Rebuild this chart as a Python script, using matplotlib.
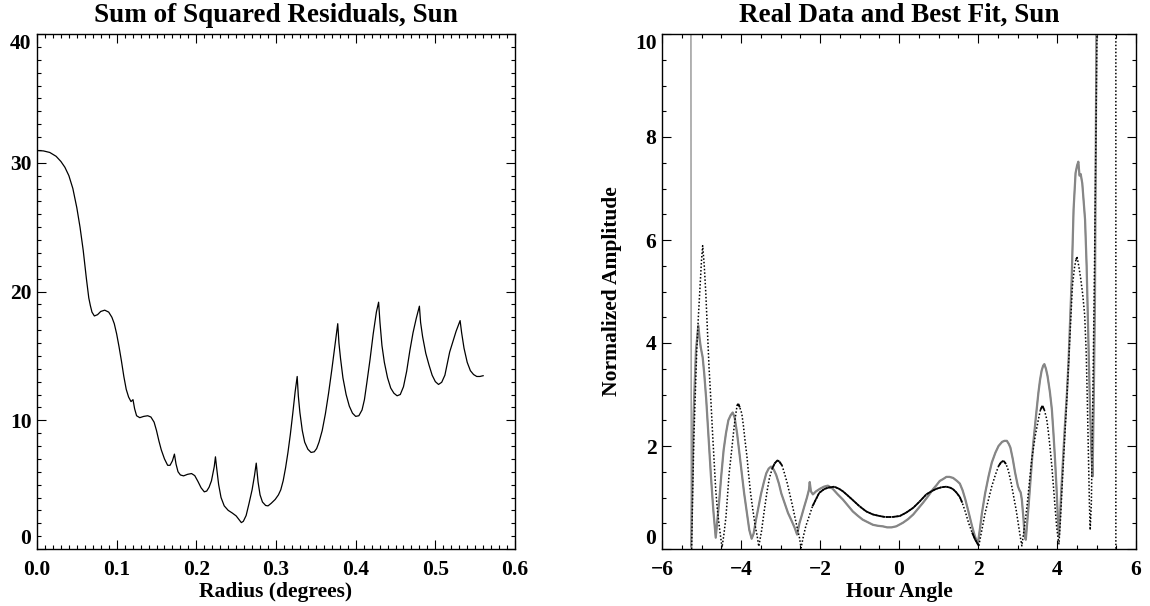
import numpy as np
import matplotlib
matplotlib.use('Agg')
import matplotlib.pyplot as plt
from matplotlib.ticker import MultipleLocator
from matplotlib.collections import LineCollection

# sum of squared residuals against trial disk radius
radius = [0.000, 0.008, 0.016, 0.024, 0.030, 0.035, 0.040, 0.045, 0.050, 0.054,
          0.058, 0.062, 0.065, 0.067, 0.069, 0.072, 0.076, 0.080, 0.085, 0.090,
          0.094, 0.097, 0.100, 0.103, 0.106, 0.109, 0.112, 0.115, 0.118, 0.1205,
          0.1225, 0.125, 0.129, 0.134, 0.139, 0.143, 0.147, 0.150, 0.153, 0.156,
          0.160, 0.164, 0.167, 0.170, 0.1725, 0.1745, 0.177, 0.180, 0.184, 0.189,
          0.194, 0.198, 0.202, 0.206, 0.210, 0.213, 0.216, 0.219, 0.2225, 0.224,
          0.2255, 0.228, 0.231, 0.235, 0.240, 0.245, 0.250, 0.254, 0.2565, 0.259,
          0.2625, 0.266, 0.270, 0.273, 0.2752, 0.2775, 0.280, 0.283, 0.287, 0.290,
          0.294, 0.299, 0.303, 0.306, 0.309, 0.312, 0.315, 0.318, 0.321, 0.324,
          0.3266, 0.328, 0.330, 0.333, 0.336, 0.340, 0.344, 0.348, 0.351, 0.354,
          0.358, 0.362, 0.366, 0.370, 0.374, 0.3775, 0.379, 0.381, 0.384, 0.388,
          0.392, 0.396, 0.400, 0.404, 0.408, 0.411, 0.414, 0.418, 0.422, 0.426,
          0.4288, 0.4305, 0.433, 0.436, 0.440, 0.444, 0.448, 0.452, 0.456, 0.460,
          0.464, 0.468, 0.472, 0.476, 0.480, 0.4815, 0.484, 0.488, 0.492, 0.496,
          0.500, 0.504, 0.508, 0.512, 0.515, 0.518, 0.522, 0.526, 0.5311, 0.533,
          0.536, 0.540, 0.544, 0.548, 0.552, 0.556, 0.560]
ssr = [30.95, 30.92, 30.80, 30.50, 30.10, 29.65, 29.00, 28.00, 26.50, 25.00,
       23.20, 21.00, 19.50, 18.90, 18.40, 18.10, 18.20, 18.45, 18.55, 18.40,
       18.00, 17.50, 16.70, 15.70, 14.60, 13.40, 12.40, 11.80, 11.45, 11.60,
       10.90, 10.35, 10.20, 10.30, 10.35, 10.25, 9.85, 9.20, 8.40, 7.70,
       7.00, 6.50, 6.50, 6.85, 7.37, 6.60, 6.00, 5.75, 5.68, 5.80,
       5.86, 5.70, 5.25, 4.75, 4.44, 4.50, 4.80, 5.30, 6.40, 7.16,
       6.30, 5.00, 4.00, 3.35, 3.00, 2.80, 2.57, 2.25, 2.05, 2.15,
       2.60, 3.50, 4.60, 5.70, 6.67, 5.20, 4.20, 3.65, 3.38, 3.35,
       3.55, 3.85, 4.20, 4.60, 5.30, 6.30, 7.50, 8.90, 10.50, 12.20,
       13.40, 11.90, 10.60, 9.20, 8.30, 7.75, 7.50, 7.55, 7.80, 8.30,
       9.20, 10.50, 12.10, 13.90, 15.80, 17.50, 16.00, 14.80, 13.30, 12.00,
       11.10, 10.55, 10.30, 10.35, 10.80, 11.60, 12.90, 14.70, 16.70, 18.40,
       19.17, 17.60, 15.80, 14.50, 13.30, 12.50, 12.10, 11.90, 12.00, 12.60,
       13.80, 15.40, 16.80, 17.90, 18.86, 17.60, 16.50, 15.20, 14.30, 13.50,
       13.00, 12.78, 12.95, 13.50, 14.40, 15.30, 16.10, 16.90, 17.74, 16.80,
       15.60, 14.50, 13.85, 13.55, 13.40, 13.40, 13.46]

# measured fringe amplitude
ha_data = [-5.27, -5.26, -5.20, -5.14, -5.08, -5.05, -5.02, -4.97, -4.93, -4.88, -4.82, -4.76, -4.70, -4.64,
           -4.60, -4.55, -4.50, -4.44, -4.38, -4.32, -4.26, -4.21, -4.16, -4.10, -4.04, -3.98, -3.92, -3.85, -3.79, -3.73,
           -3.68, -3.62, -3.55, -3.49, -3.42, -3.36, -3.30, -3.24, -3.17, -3.11, -3.04, -2.98, -2.90, -2.81, -2.72, -2.64, -2.58,
           -2.52, -2.47, -2.40, -2.33, -2.28, -2.26, -2.23, -2.18, -2.10, -2.00, -1.90, -1.80, -1.68,
           -1.55, -1.42, -1.30, -1.17, -1.05, -0.92, -0.79, -0.66, -0.53, -0.41, -0.30, -0.19, -0.07, 0.10,
           0.23, 0.36, 0.48, 0.61, 0.74, 0.86, 0.95, 1.03, 1.12, 1.20, 1.28, 1.37, 1.47, 1.54,
           1.61, 1.68, 1.76, 1.85, 1.92, 1.97, 2.00,
           2.05, 2.10, 2.18, 2.27, 2.35, 2.44, 2.52, 2.61, 2.67, 2.73, 2.78, 2.82, 2.88, 2.94, 3.01, 3.05, 3.08, 3.11, 3.15, 3.18, 3.21,
           3.24, 3.28, 3.34, 3.40, 3.47, 3.53, 3.57, 3.61, 3.65, 3.68, 3.72, 3.76, 3.82, 3.87, 3.91, 3.95, 3.99, 4.02, 4.05,
           4.08, 4.12, 4.16, 4.20, 4.25, 4.29, 4.33, 4.37, 4.42, 4.47, 4.51, 4.54, 4.57, 4.60, 4.64, 4.68, 4.71, 4.75, 4.79,
           4.83, 4.87, 4.90, 4.93, 4.96, 5.00, 5.01]
amp_data = [14.0, 0.05, 2.63, 3.86, 4.34, 4.10, 3.92, 3.72, 3.40, 2.90, 2.15, 1.40, 0.75, 0.22,
            0.55, 0.95, 1.42, 1.92, 2.25, 2.50, 2.60, 2.65, 2.55, 2.25, 1.86, 1.48, 1.08, 0.70, 0.37, 0.20,
            0.30, 0.57, 0.85, 1.08, 1.30, 1.47, 1.56, 1.60, 1.54, 1.44, 1.27, 1.08, 0.90, 0.70, 0.55, 0.41, 0.28,
            0.50, 0.63, 0.82, 1.00, 1.15, 1.30, 1.12, 1.06, 1.12, 1.17, 1.21, 1.23, 1.17,
            1.06, 0.96, 0.85, 0.73, 0.65, 0.57, 0.52, 0.47, 0.45, 0.44, 0.42, 0.42, 0.44, 0.51,
            0.58, 0.67, 0.78, 0.90, 1.03, 1.16, 1.24, 1.32, 1.36, 1.40, 1.40, 1.38, 1.32, 1.27,
            1.14, 0.96, 0.72, 0.44, 0.25, 0.15, 0.12,
            0.40, 0.70, 1.08, 1.42, 1.68, 1.87, 2.00, 2.08, 2.10, 2.10, 2.04, 1.97, 1.75, 1.48, 1.22, 1.14, 1.10, 0.96, 0.60, 0.25, 0.18,
            0.45, 0.83, 1.45, 2.06, 2.60, 3.04, 3.28, 3.46, 3.56, 3.59, 3.50, 3.36, 3.05, 2.71, 2.25, 1.74, 1.15, 0.64, 0.25,
            0.70, 1.29, 1.85, 2.39, 3.00, 3.60, 4.40, 5.20, 6.60, 7.30, 7.45, 7.52, 7.25, 7.28, 7.10, 6.70, 6.40, 5.50, 4.20,
            2.90, 1.90, 1.41, 2.90, 4.80, 10.20, 14.00]

# best-fit model amplitude
ha_fit = [-5.25, -5.22, -5.19, -5.15, -5.12, -5.08, -5.03, -5.00, -4.97, -4.93, -4.89, -4.85, -4.81, -4.76, -4.72, -4.68, -4.64, -4.60, -4.55, -4.51, -4.48,
          -4.43, -4.38, -4.34, -4.30, -4.25, -4.21, -4.17, -4.13, -4.10, -4.07, -4.03, -3.98, -3.94, -3.90, -3.85, -3.81, -3.76, -3.70, -3.64, -3.59, -3.55,
          -3.48, -3.41, -3.34, -3.28, -3.21, -3.15, -3.08, -3.03, -2.96, -2.90, -2.83, -2.77, -2.70, -2.64, -2.58, -2.52, -2.48,
          -2.42, -2.36, -2.27, -2.19, -2.10, -2.02, -1.90, -1.80, -1.64, -1.52, -1.42, -1.30, -1.17, -1.00, -0.83, -0.66, -0.49, -0.34, -0.19,
          0.02, 0.19, 0.36, 0.52, 0.69, 0.82, 0.95, 1.08, 1.20, 1.30, 1.37, 1.45, 1.54, 1.60, 1.68, 1.76, 1.85, 1.93, 2.02,
          2.10, 2.18, 2.27, 2.35, 2.44, 2.52, 2.59, 2.65, 2.71, 2.77, 2.84, 2.90, 2.97, 3.03, 3.07, 3.11,
          3.18, 3.24, 3.30, 3.36, 3.45, 3.53, 3.58, 3.63, 3.68, 3.74, 3.78, 3.82, 3.87, 3.91, 3.95, 3.99, 4.02, 4.05,
          4.09, 4.13, 4.18, 4.24, 4.30, 4.35, 4.39, 4.44, 4.48, 4.51, 4.55, 4.60, 4.65, 4.70, 4.74, 4.77, 4.80, 4.82, 4.84,
          4.87, 4.90, 4.95, 4.99, 5.02, 5.05, 5.49, 5.49]
amp_fit = [0.00, 1.20, 2.25, 3.20, 3.86, 4.50, 5.20, 5.60, 5.89, 5.50, 4.95, 4.25, 3.54, 2.85, 2.25, 1.70, 1.15, 0.78, 0.44, 0.20, 0.03,
           0.30, 0.63, 1.05, 1.47, 1.82, 2.12, 2.40, 2.63, 2.78, 2.82, 2.75, 2.63, 2.40, 2.12, 1.80, 1.47, 1.10, 0.76, 0.45, 0.25, 0.05,
           0.35, 0.75, 1.12, 1.38, 1.56, 1.66, 1.72, 1.70, 1.62, 1.47, 1.28, 1.08, 0.85, 0.63, 0.42, 0.22, 0.02,
           0.25, 0.44, 0.65, 0.83, 0.97, 1.09, 1.16, 1.19, 1.21, 1.17, 1.12, 1.04, 0.95, 0.83, 0.73, 0.67, 0.64, 0.62, 0.62,
           0.64, 0.71, 0.80, 0.92, 1.06, 1.12, 1.17, 1.20, 1.21, 1.19, 1.16, 1.10, 1.01, 0.90, 0.72, 0.51, 0.32, 0.18, 0.06,
           0.38, 0.70, 0.98, 1.22, 1.44, 1.61, 1.69, 1.71, 1.65, 1.52, 1.28, 1.03, 0.74, 0.44, 0.24, 0.06,
           0.45, 0.83, 1.28, 1.74, 2.20, 2.52, 2.70, 2.78, 2.70, 2.52, 2.28, 2.00, 1.60, 1.22, 0.82, 0.44, 0.25, 0.10,
           0.60, 1.22, 1.95, 2.78, 3.70, 4.50, 5.10, 5.45, 5.62, 5.66, 5.50, 5.25, 4.95, 4.55, 3.80, 2.80, 1.70, 0.90, 0.37,
           0.90, 2.50, 5.50, 8.30, 10.50, 14.00, 14.00, 0.00]

plt.rcParams['font.family'] = 'Liberation Serif'
plt.rcParams['font.weight'] = 'bold'
plt.rcParams['axes.unicode_minus'] = True

GRAY = '#868686'


def style_axes(ax, xmajor, xminor, ymajor, yminor, yticks):
    """IDL-like box axes: inward ticks on all four sides."""
    ax.xaxis.set_major_locator(MultipleLocator(xmajor))
    ax.xaxis.set_minor_locator(MultipleLocator(xminor))
    ax.set_yticks(yticks)
    ax.yaxis.set_minor_locator(MultipleLocator(yminor))
    ax.tick_params(which='both', direction='in', top=True, right=True,
                   width=0.8, color='black', labelsize=15.5)
    ax.tick_params(which='major', length=6.5)
    ax.tick_params(which='minor', length=3.2)
    ax.tick_params(axis='x', pad=8)
    ax.tick_params(axis='y', pad=4)
    for sp in ax.spines.values():
        sp.set_linewidth(1.0)
    # end labels sit inside the axis range
    ticks = ax.yaxis.get_major_ticks()
    ticks[0].label1.set_verticalalignment('bottom')
    ticks[-1].label1.set_verticalalignment('top')


fig = plt.figure(figsize=(11.5, 6.06), dpi=100)
ax1 = fig.add_axes([37 / 1150, 57 / 606, 478 / 1150, 515 / 606])
ax2 = fig.add_axes([662 / 1150, 57 / 606, 474 / 1150, 515 / 606])

# left: residuals
ax1.plot(radius, ssr, color='black', lw=0.9)
ax1.set_xlim(0, 0.6)
ax1.set_ylim(0, 40)
style_axes(ax1, 0.1, 0.01, 10, 1, [0, 10, 20, 30, 40])
ax1.xaxis.set_major_formatter(plt.FormatStrFormatter('%.1f'))
ax1.set_title('Sum of Squared Residuals, Sun', fontsize=19.5, fontweight='bold', pad=9)
ax1.set_xlabel('Radius (degrees)', fontsize=15.5, fontweight='bold', labelpad=1)

# right: data and fit
ax2.plot(ha_data, amp_data, color=GRAY, lw=0.9)
ax2.plot(ha_data[1:-1], amp_data[1:-1], color=GRAY, lw=1.6, solid_joinstyle='round')
ax2.plot(ha_fit, amp_fit, color='black', lw=1.1, linestyle=(0, (1.0, 1.3)))

# the fit reads as a solid trace where it is nearly flat
fx = np.array(ha_fit)
fy = np.array(amp_fit)
with np.errstate(divide='ignore', invalid='ignore'):
    slope = np.abs(np.diff(fy) / np.diff(fx))
flat = np.where(slope < 2.0)[0]
segs = [[(fx[i], fy[i]), (fx[i + 1], fy[i + 1])] for i in flat]
ax2.add_collection(LineCollection(segs, colors='black', linewidths=1.3))

ax2.set_xlim(-6, 6)
ax2.set_ylim(0, 10)
style_axes(ax2, 2, 0.5, 2, 0.5, [0, 2, 4, 6, 8, 10])
ax2.set_title('Real Data and Best Fit, Sun', fontsize=19.5, fontweight='bold', pad=9)
ax2.set_xlabel('Hour Angle', fontsize=15.5, fontweight='bold', labelpad=1)
ax2.set_ylabel('Normalized Amplitude', fontsize=15.5, fontweight='bold', labelpad=9)

fig.savefig('out.png', dpi=100)
